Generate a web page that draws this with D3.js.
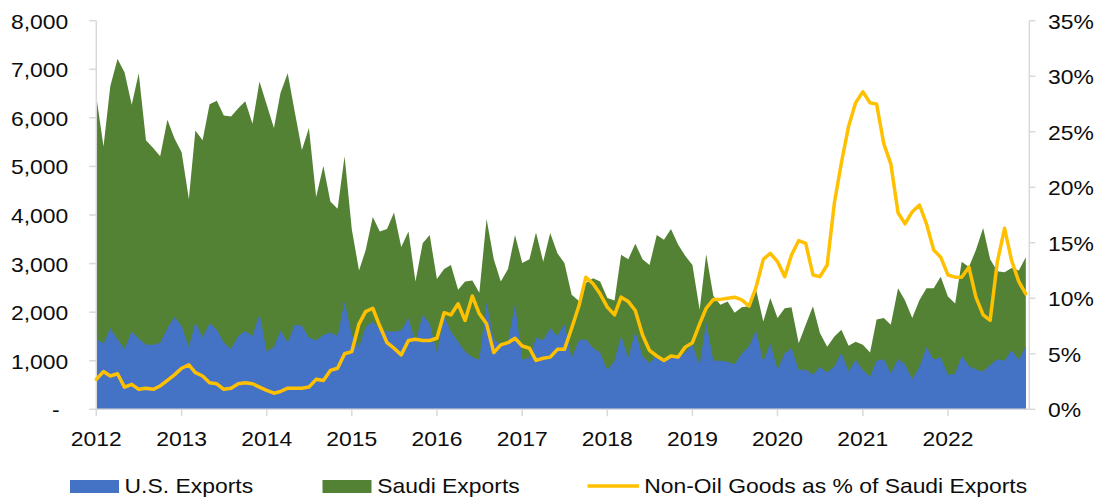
<!DOCTYPE html>
<html>
<head>
<meta charset="utf-8">
<script src="https://cdn.jsdelivr.net/npm/d3@7"></script>
<style>
  html, body { margin: 0; padding: 0; background: #fff; }
  svg { display: block; font-family: "Liberation Sans", Arial, sans-serif; }
</style>
</head>
<body>
<svg id="chart" width="1099" height="499"></svg>
<script>
// monthly, Jan 2012 .. Dec 2022
const saudiExports = [
  6440, 5410, 6650, 7210, 6940, 6270, 6920, 5540, 5380, 5210, 5960, 5580,
  5290, 4330, 5740, 5540, 6280, 6350, 6050, 6030, 6200, 6340, 5880, 6750,
  6270, 5790, 6510, 6920, 6130, 5340, 5790, 4370, 5010, 4280, 4130, 5210,
  3700, 2860, 3270, 3960, 3660, 3710, 4050, 3340, 3660, 2630, 3420, 3590,
  2680, 2890, 2970, 2460, 2630, 2650, 2400, 3920, 3090, 2630, 2890, 3590,
  3010, 3090, 3640, 3040, 3630, 3210, 3010, 2360, 2230, 2600, 2700, 2630,
  2290, 2240, 3180, 3090, 3410, 3090, 2970, 3590, 3490, 3710, 3390, 3160,
  2970, 2050, 3190, 2330, 2150, 2220, 1990, 2100, 2120, 2460, 1810, 2290,
  1880, 2080, 2100, 1360, 1740, 2120, 1570, 1290, 1500, 1640, 1310, 1390,
  1330, 1170, 1850, 1880, 1740, 2490, 2240, 1880, 2250, 2490, 2490, 2730,
  2320, 2180, 3040, 2930, 3280, 3730, 3090, 2840, 2820, 2910, 2860, 3130
]
const usExports = [
  1460, 1350, 1670, 1440, 1240, 1600, 1460, 1330, 1330, 1370, 1670, 1900,
  1720, 1280, 1790, 1480, 1770, 1640, 1370, 1240, 1510, 1610, 1510, 1960,
  1190, 1280, 1620, 1370, 1740, 1720, 1480, 1420, 1530, 1580, 1510, 2220,
  1530, 1280, 1690, 1810, 1640, 1600, 1600, 1620, 1880, 1390, 1940, 1760,
  1170, 1920, 1600, 1390, 1190, 1070, 1020, 2200, 1440, 1330, 1380, 2170,
  1030, 1050, 1480, 1420, 1670, 1510, 1760, 1050, 1420, 1440, 1260, 1170,
  810, 1000, 1510, 1050, 1600, 1090, 950, 1120, 1050, 1100, 1070, 1170,
  1330, 910, 1790, 1000, 1000, 980, 930, 1150, 1300, 1620, 980, 1360,
  820, 1150, 1260, 810, 820, 710, 870, 760, 880, 1170, 780, 1020,
  810, 670, 1000, 1030, 740, 1030, 930, 620, 870, 1280, 1020, 1070,
  710, 730, 1100, 890, 820, 780, 910, 1030, 1000, 1220, 1020, 1300
]
const nonOilShare = [
  2.7, 3.4, 3.0, 3.2, 2.0, 2.25, 1.8, 1.9, 1.8, 2.1, 2.6, 3.1,
  3.7, 4.0, 3.3, 3.0, 2.4, 2.3, 1.8, 1.9, 2.3, 2.4, 2.3, 2.0,
  1.7, 1.45, 1.6, 1.9, 1.9, 1.9, 2.0, 2.7, 2.6, 3.5, 3.7, 5.0,
  5.2, 7.7, 8.8, 9.1, 7.5, 6.0, 5.5, 4.9, 6.2, 6.3, 6.2, 6.2,
  6.4, 8.7, 8.5, 9.5, 8.0, 10.2, 8.6, 7.7, 5.1, 5.8, 6.0, 6.4,
  5.7, 5.5, 4.4, 4.6, 4.7, 5.4, 5.4, 7.3, 9.3, 11.9, 11.3, 10.4,
  9.2, 8.5, 10.1, 9.7, 8.9, 6.7, 5.3, 4.8, 4.4, 4.8, 4.7, 5.6,
  6.0, 7.7, 9.1, 9.9, 9.9, 10.0, 10.1, 9.85, 9.3, 11.0, 13.5, 14.05,
  13.3, 11.95, 13.9, 15.2, 14.95, 12.1, 11.95, 13.0, 18.6, 22.2, 25.5, 27.6,
  28.6, 27.6, 27.5, 23.9, 22.1, 17.7, 16.7, 17.8, 18.4, 16.7, 14.35, 13.7,
  12.1, 11.9, 11.9, 12.8, 10.1, 8.5, 8.0, 13.3, 16.3, 13.4, 11.5, 10.4
]
const leftTicks = [0, 1000, 2000, 3000, 4000, 5000, 6000, 7000, 8000]
const rightTicks = [0, 5, 10, 15, 20, 25, 30, 35]
const seriesNames = ['U.S. Exports', 'Saudi Exports', 'Non-Oil Goods as % of Saudi Exports']

const colors = { us: '#4472C4', saudi: '#548235', share: '#FFC000', axis: '#d9d9d9', text: '#0d0d0d' }
const stretch = 1.09
const fontSize = 21

const months = d3.timeMonth.range(new Date(2012, 0, 1), new Date(2023, 0, 1))
const rows = months.map((m, i) => ({
  date: m, saudi: saudiExports[i], us: usExports[i], share: nonOilShare[i],
}))

const svg = d3.select('#chart')
const plot = { left: 96.3, right: 1029.3, top: 20.7, bottom: 409.3 }

const x = d3.scaleTime()
  .domain([new Date(2012, 0, 1), new Date(2022, 11, 16)])
  .range([plot.left, plot.right])
const y = d3.scaleLinear().domain([0, 8000]).range([plot.bottom, plot.top])
const y2 = d3.scaleLinear().domain([0, 35]).range([plot.bottom, plot.top])

// text is a little wider than plain Arial in the picture
const addText = (g, str, px, py, anchor) => {
  const t = g.append('text').text(str).attr('y', py)
    .attr('font-size', fontSize).attr('fill', colors.text)
  const w = t.node().getComputedTextLength()
  const tw = w * stretch
  let x0 = px
  if (anchor === 'end') x0 = px - tw
  else if (anchor === 'middle') x0 = px - tw / 2
  t.attr('x', x0).attr('textLength', tw).attr('lengthAdjust', 'spacingAndGlyphs')
  return t
}

// areas
svg.append('path').datum(rows)
  .attr('fill', colors.saudi)
  .attr('d', d3.area().x(d => x(d.date)).y0(plot.bottom).y1(d => y(d.saudi)))
svg.append('path').datum(rows)
  .attr('fill', colors.us)
  .attr('d', d3.area().x(d => x(d.date)).y0(plot.bottom).y1(d => y(d.us)))

// axes
const axisG = svg.append('g')
const axisLine = (x1, x2, y1, y2v) => axisG.append('line')
  .attr('x1', x1).attr('x2', x2).attr('y1', y1).attr('y2', y2v)
  .attr('stroke', colors.axis).attr('stroke-width', 1.5)

axisLine(plot.left, plot.left, plot.top, plot.bottom)
axisLine(plot.right, plot.right, plot.top, plot.bottom)
axisLine(plot.left, plot.right, plot.bottom, plot.bottom)

leftTicks.forEach(v => {
  axisLine(plot.left - 7, plot.left, y(v), y(v))
  if (v === 0) addText(axisG, '-', 52, y(v) + 8, 'start')
  else addText(axisG, d3.format(',')(v), 68.3, y(v) + 8, 'end')
})

rightTicks.forEach(v => {
  axisLine(plot.right, plot.right + 6, y2(v), y2(v))
  addText(axisG, `${v}%`, 1048, y2(v) + 8, 'start')
})

x.ticks(d3.timeYear.every(1)).forEach(d => {
  axisLine(x(d), x(d), plot.bottom, plot.bottom + 7)
  addText(axisG, d3.timeFormat('%Y')(d), x(d), 446, 'middle')
})

// non-oil share line
svg.append('path').datum(rows)
  .attr('fill', 'none')
  .attr('stroke', colors.share)
  .attr('stroke-width', 3.5)
  .attr('stroke-linejoin', 'round')
  .attr('stroke-linecap', 'round')
  .attr('d', d3.line().x(d => x(d.date)).y(d => y2(d.share)))

// legend
const legend = svg.append('g')
legend.append('rect').attr('x', 70).attr('y', 480).attr('width', 49).attr('height', 13)
  .attr('fill', colors.us)
addText(legend, seriesNames[0], 124.6, 492.7, 'start')
legend.append('rect').attr('x', 322.5).attr('y', 480).attr('width', 49).attr('height', 13)
  .attr('fill', colors.saudi)
addText(legend, seriesNames[1], 377.2, 492.7, 'start')
legend.append('line').attr('x1', 587.5).attr('x2', 639).attr('y1', 486).attr('y2', 486)
  .attr('stroke', colors.share).attr('stroke-width', 3.5)
addText(legend, seriesNames[2], 644.2, 492.7, 'start')
</script>
</body>
</html>
